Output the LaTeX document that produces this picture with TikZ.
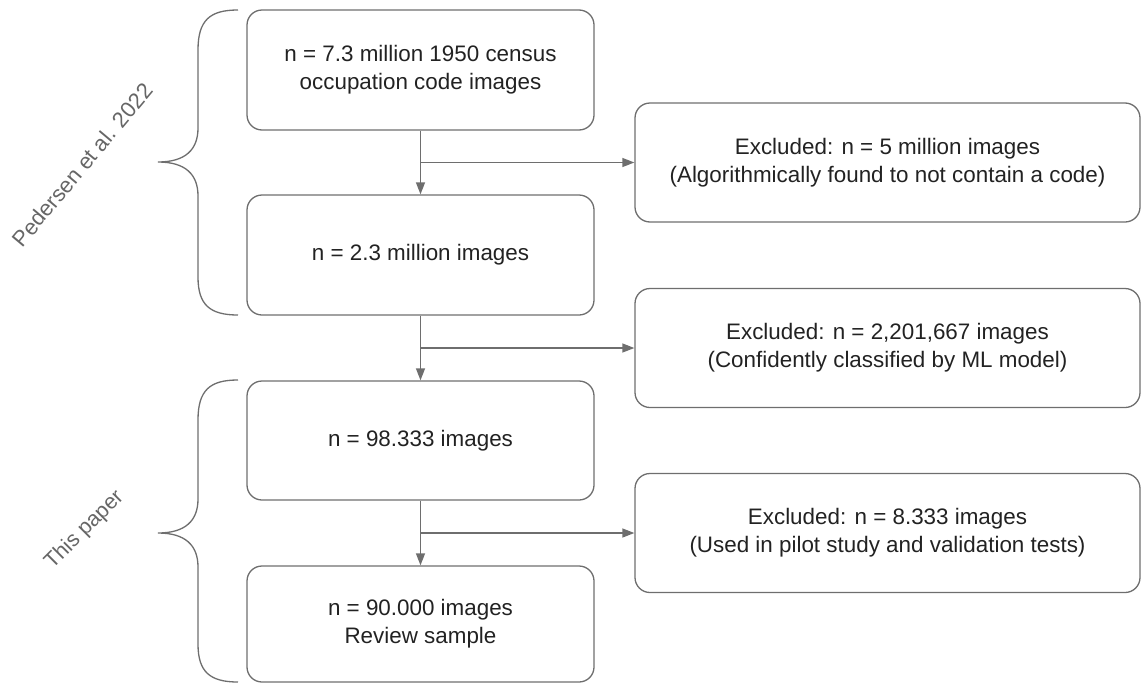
\documentclass[tikz,border=0pt]{standalone}
\usepackage{fontspec}
\setmainfont{Liberation Sans}
\usetikzlibrary{arrows.meta}
\definecolor{lineg}{HTML}{6E6E6E}
\definecolor{txtg}{HTML}{222222}
\definecolor{labg}{HTML}{666666}
\tikzset{
  box/.style={draw=lineg, line width=1.3pt, rounded corners=15pt, align=center,
    text=txtg, font=\fontsize{22.4}{28}\selectfont, inner sep=0pt},
  lbox/.style={box, minimum width=347pt},
  rbox/.style={box, minimum width=505pt, minimum height=119pt},
  arr/.style={draw=lineg, line width=1.3pt, -{Triangle[length=12pt,width=9pt]}},
  brace/.style={draw=lineg, line width=1.3pt},
  lab/.style={text=labg, inner sep=0pt}
}
\begin{document}
\begin{tikzpicture}[x=1pt,y=-1pt]
\useasboundingbox (0,0) rectangle (1141,683);
\node[lbox, minimum height=120pt] (b1) at (420.5,70) {n = 7.3 million 1950 census\\occupation code images};
\node[lbox, minimum height=120pt] (b2) at (420.5,255) {n = 2.3 million images};
\node[lbox, minimum height=119pt] (b3) at (420.5,440.5) {n = 98.333 images};
\node[lbox, minimum height=116pt] (b4) at (420.5,624) {n = 90.000 images\\Review sample};
\node[rbox] (r1) at (887.5,162.5) {Excluded: n = 5 million images\\(Algorithmically found to not contain a code)};
\node[rbox] (r2) at (887.5,348) {Excluded: n = 2,201,667 images\\(Confidently classified by ML model)};
\node[rbox] (r3) at (887.5,533) {Excluded: n = 8.333 images\\(Used in pilot study and validation tests)};
\draw[arr] (b1.south) -- (b2.north);
\draw[arr] (b2.south) -- (b3.north);
\draw[arr] (b3.south) -- (b4.north);
\coordinate (j1) at (b1.south |- r1.west);
\coordinate (j2) at (b2.south |- r2.west);
\coordinate (j3) at (b3.south |- r3.west);
\draw[arr] (j1) -- (r1.west);
\draw[arr] (j2) -- (r2.west);
\draw[arr] (j3) -- (r3.west);
\draw[brace] (238,10) .. controls (210,10) and (198,20) .. (198,50) -- (198,128)
  .. controls (198,150) and (185,162) .. (158,162)
  .. controls (185,162) and (198,174) .. (198,196) -- (198,277)
  .. controls (198,305) and (210,315) .. (238,315);
\draw[brace] (238,380) .. controls (210,380) and (198,390) .. (198,420) -- (198,499)
  .. controls (198,521) and (185,533) .. (158,533)
  .. controls (185,533) and (198,545) .. (198,567) -- (198,644)
  .. controls (198,672) and (210,682) .. (238,682);
\node[lab, rotate=50, font=\fontsize{22}{26}\selectfont] (l1) at (82.5,165) {Pedersen et al. 2022};
\node[lab, rotate=45, font=\fontsize{21.5}{26}\selectfont] (l2) at (84.5,530) {This paper};
\end{tikzpicture}
\end{document}
